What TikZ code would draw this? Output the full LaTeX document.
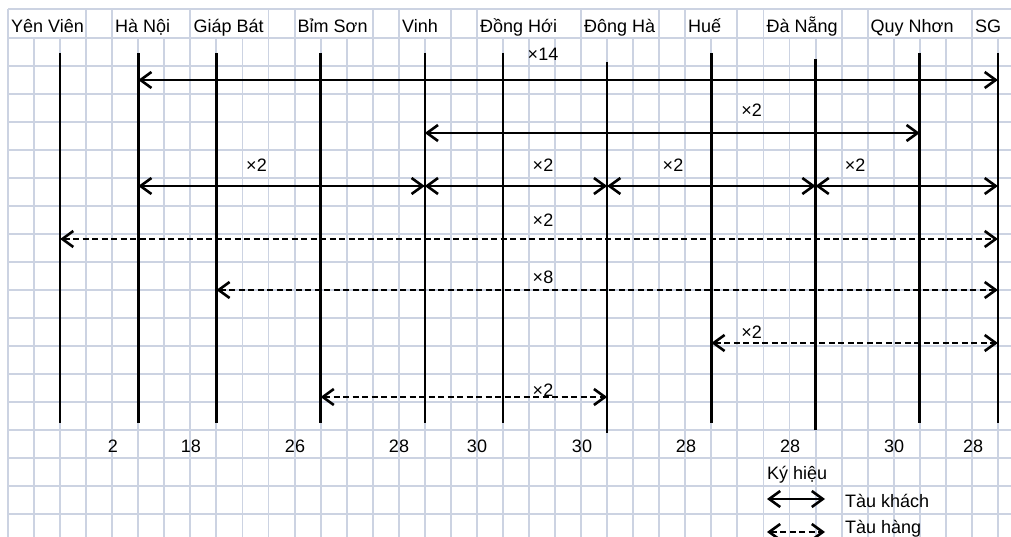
\documentclass[tikz,border=0pt]{standalone}
\usepackage{fontspec}
\setmainfont{Liberation Sans}
\usepackage{tikz}
\usetikzlibrary{arrows.meta,positioning,calc}
\definecolor{gridc}{RGB}{204,211,226}

\begin{document}
\begin{tikzpicture}[x=1pt, y=-1pt,
  grid/.style={draw=gridc, line width=1.9pt},
  stn/.style={line width=2.6pt},
  tk/.style={line width=2.6pt, {Straight Barb[length=11pt,width=16pt]}-{Straight Barb[length=11pt,width=16pt]}},
  th/.style={tk, dash pattern=on 6pt off 3.5pt},
  txt/.style={font=\fontsize{18}{20}\selectfont, inner sep=0pt},
  hdr/.style={txt, anchor=base west},
  cnt/.style={txt, anchor=base}]
  \useasboundingbox (0,0) rectangle (1011,537);

  % spreadsheet grid
  \draw[grid] (8,9.3) -- (1011,9.3);
  \foreach \r in {0,...,18} \draw[grid] (8,{38.3+28*\r}) -- (1011,{38.3+28*\r});
  \foreach \k in {0,...,38} \draw[grid] ({8+26.05*\k},38.3) -- ({8+26.05*\k},537);
  \foreach \k in {0,3,4,7,10,11,14,15,17,18,22,25,26,28,29,32,33,37}
    \draw[grid] ({8+26.05*\k},9.3) -- ({8+26.05*\k},38.3);

  % stations
  \foreach \n/\k in {yv/2, hn/5, gb/8, bs/12, vi/16, dh/19, dha/23, hue/27, dn/31, qn/35, sg/38}
    \coordinate (\n) at ({8+26.05*\k},53);
  \coordinate (bot) at (0,423);
  \foreach \n in {yv,hn,gb,bs,vi,dh,hue,qn,sg} \draw[stn] (\n) -- (\n |- bot);
  \draw[stn] ($(dha)+(0,9)$) -- ($(dha)+(0,380)$);
  \draw[stn] ($(dn)+(0,6)$) -- ($(dn)+(0,377)$);

  \node[hdr] (lyv) at (11,33) {Yên Viên};
  \node[hdr] (lhn) at (115,33) {Hà Nội};
  \node[hdr] (lgb) at (193.5,33) {Giáp Bát};
  \node[hdr] (lbs) at (297.5,33) {Bỉm Sơn};
  \node[hdr] (lvi) at (402,33) {Vinh};
  \node[hdr] (ldh) at (480,33) {Đồng Hới};
  \node[hdr] (ldha) at (584,33) {Đông Hà};
  \node[hdr] (lhue) at (688,33) {Huế};
  \node[hdr] (ldn) at (766.5,33) {Đà Nẵng};
  \node[hdr] (lqn) at (870.5,33) {Quy Nhơn};
  \node[hdr] (lsg) at (975,33) {SG};

  % trains
  \coordinate (r1) at (0,80);
  \coordinate (r2) at (0,133);
  \coordinate (r3) at (0,186);
  \coordinate (r4) at (0,239);
  \coordinate (r5) at (0,290);
  \coordinate (r6) at (0,343);
  \coordinate (r7) at (0,397);
  \draw[tk] (hn |- r1) -- (sg |- r1);
  \draw[tk] (vi |- r2) -- (qn |- r2);
  \draw[tk] (hn |- r3) -- (vi |- r3);
  \draw[tk] (vi |- r3) -- (dha |- r3);
  \draw[tk] (dha |- r3) -- (dn |- r3);
  \draw[tk] (dn |- r3) -- (sg |- r3);
  \draw[th] (yv |- r4) -- (sg |- r4);
  \draw[th] (gb |- r5) -- (sg |- r5);
  \draw[th] (hue |- r6) -- (sg |- r6);
  \draw[th] (bs |- r7) -- (dha |- r7);

  \node[cnt] (n1) at (543,61) {×14};
  \node[cnt] (n2) at (751.5,117) {×2};
  \node[cnt] (n3a) at (256.5,172) {×2};
  \node[cnt] (n3b) at (543,172) {×2};
  \node[cnt] (n3c) at (673,172) {×2};
  \node[cnt] (n3d) at (855,172) {×2};
  \node[cnt] (n4) at (543,227) {×2};
  \node[cnt] (n5) at (543,283) {×8};
  \node[cnt] (n6) at (751.5,338) {×2};
  \node[cnt] (n7) at (543,396) {×2};

  % distances
  \foreach \x/\d [count=\i] in {113/2, 191/18, 295/26, 399/28, 477/30, 582/30, 686/28, 790/28, 894/30, 973/28}
    \node[cnt] (d\i) at (\x,452) {\d};

  % legend
  \node[hdr] (key) at (767,479) {Ký hiệu};
  \coordinate (ka) at (767,499);
  \coordinate (kb) at (825,499);
  \coordinate (ha) at (767,532);
  \coordinate (hb) at (825,532);
  \draw[tk] (ka) -- (kb);
  \draw[th] (ha) -- (hb);
  \node[hdr] (tk) at (845,507) {Tàu khách};
  \node[hdr] (th) at (845,533) {Tàu hàng};
\end{tikzpicture}
\end{document}
